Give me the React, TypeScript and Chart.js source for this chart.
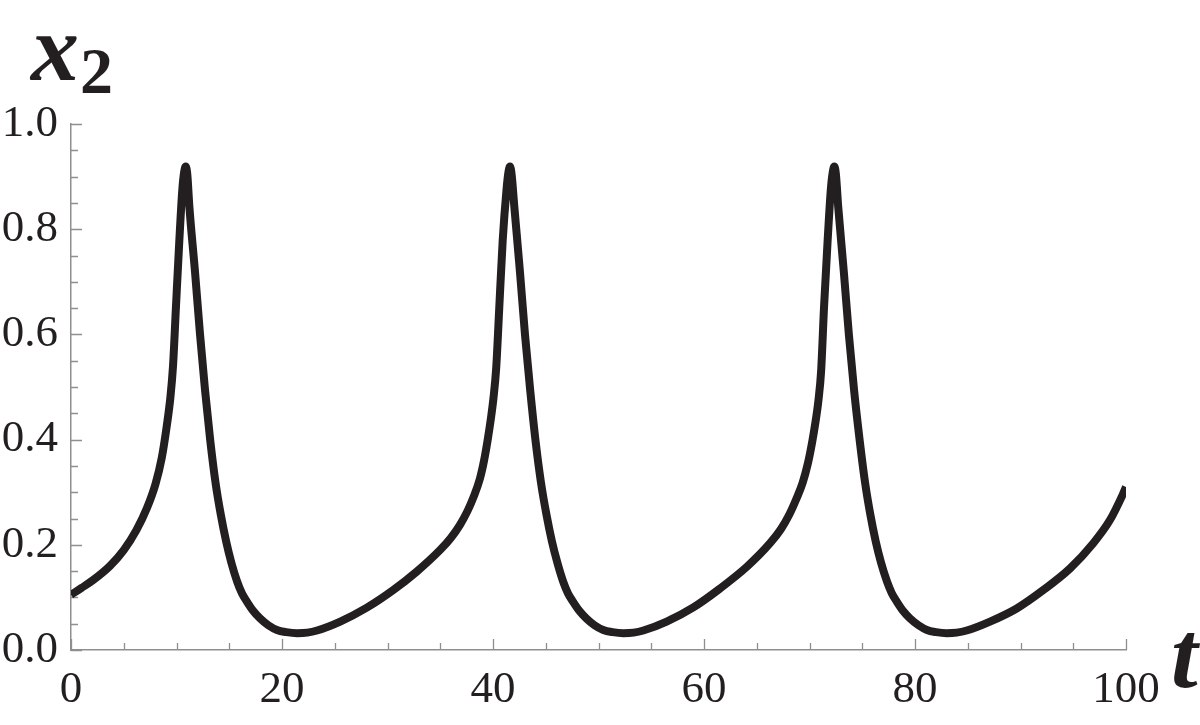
import React, { useEffect, useRef } from 'react';
import { Chart, registerables } from 'chart.js';

Chart.register(...registerables);

// Curve, split at the peaks: t values and x2 values
const riseTimes1 = [0, 1.0, 2.1, 3.7, 5.0, 6.2, 7.2, 8.0, 8.6, 9.07, 9.42, 9.67, 9.95, 10.27, 10.55, 10.72, 10.87];
const riseValues1 = [0.105, 0.118, 0.133, 0.16, 0.19, 0.228, 0.27, 0.315, 0.365, 0.425, 0.48, 0.54, 0.653, 0.779, 0.875, 0.908, 0.919];

const cycleTimes2 = [
  11.02, 11.22, 11.75, 12.23, 12.7, 13.2, 13.7, 14.2, 14.7, 15.2, 15.75, 16.2, 16.67, 17.28, 17.92, 18.7, 19.52, 20.4,
  21.42, 22.4, 23.32, 25.52, 28.0, 30.55, 32.77, 34.98, 36.0, 36.87, 37.6, 38.2, 38.75, 39.15, 39.5, 39.8, 40.05, 40.3,
  40.6, 40.92, 41.28, 41.46, 41.61,
];
const cycleValues2 = [
  0.905, 0.843, 0.72, 0.6, 0.495, 0.398, 0.318, 0.257, 0.207, 0.166, 0.13, 0.108, 0.092, 0.074, 0.06, 0.047, 0.038,
  0.034, 0.032, 0.033, 0.037, 0.054, 0.08, 0.114, 0.149, 0.19, 0.213, 0.238, 0.265, 0.293, 0.325, 0.36, 0.4, 0.44, 0.48,
  0.535, 0.653, 0.779, 0.875, 0.908, 0.919,
];

const cycleTimes3 = [
  41.76, 42.02, 42.55, 43.03, 43.52, 44.03, 44.55, 45.07, 45.58, 46.1, 46.65, 47.1, 47.58, 48.2, 48.84, 49.62, 50.45,
  51.33, 52.35, 53.33, 54.25, 56.46, 58.99, 61.52, 64.05, 66.26, 67.3, 68.1, 68.75, 69.35, 69.85, 70.25, 70.58, 70.85,
  71.1, 71.38, 71.72, 72.02, 72.2, 72.35,
];
const cycleValues3 = [
  0.905, 0.843, 0.72, 0.6, 0.495, 0.398, 0.318, 0.257, 0.207, 0.166, 0.13, 0.108, 0.092, 0.074, 0.06, 0.047, 0.038,
  0.034, 0.032, 0.033, 0.037, 0.054, 0.081, 0.117, 0.158, 0.203, 0.23, 0.258, 0.287, 0.318, 0.355, 0.395, 0.435, 0.475,
  0.53, 0.653, 0.779, 0.875, 0.908, 0.919,
];

const tailTimes = [
  72.5, 72.72, 73.25, 73.73, 74.22, 74.76, 75.27, 75.77, 76.27, 76.78, 77.35, 77.8, 78.27, 78.88, 79.52, 80.33, 81.13,
  82.0, 83.0, 83.95, 84.9, 87.11, 89.64, 92.16, 94.69, 96.9, 98.48, 99.68, 100,
];
const tailValues = [
  0.905, 0.843, 0.72, 0.6, 0.495, 0.398, 0.318, 0.257, 0.207, 0.166, 0.13, 0.108, 0.092, 0.074, 0.06, 0.047, 0.038,
  0.034, 0.032, 0.033, 0.037, 0.054, 0.079, 0.114, 0.155, 0.203, 0.247, 0.295, 0.31,
];

const timeValues = [...riseTimes1, ...cycleTimes2, ...cycleTimes3, ...tailTimes];
const x2Values = [...riseValues1, ...cycleValues2, ...cycleValues3, ...tailValues];

const xTickLabels = [0, 20, 40, 60, 80, 100];
const yTickLabels = [0.0, 0.2, 0.4, 0.6, 0.8, 1.0];
const xMinorStep = 5;
const yMinorStep = 0.05;
const yAxisTitle = 'x';
const yAxisTitleSub = '2';
const xAxisTitle = 't';

const AXIS_COLOR = '#8f8f8f';
const INK = '#231f20';
const SERIF = '"Liberation Serif"';

const axisDecor = {
  id: 'axisDecor',
  beforeDatasetsDraw(chart: any) {
    const { ctx, chartArea, scales } = chart;
    const xs = scales.x;
    const ys = scales.y;
    ctx.save();
    ctx.strokeStyle = AXIS_COLOR;
    ctx.lineWidth = 1.3;
    ctx.beginPath();
    const xMin = xTickLabels[0];
    const xMax = xTickLabels[xTickLabels.length - 1];
    for (let i = 0; xMin + i * xMinorStep <= xMax + 1e-9; i++) {
      const v = xMin + i * xMinorStep;
      const major = xTickLabels.some((m) => Math.abs(m - v) < 1e-9);
      const px = Math.round(xs.getPixelForValue(v)) + 0.5;
      ctx.moveTo(px, chartArea.bottom);
      ctx.lineTo(px, chartArea.bottom - (major ? 11 : 7));
    }
    const yMin = yTickLabels[0];
    const yMax = yTickLabels[yTickLabels.length - 1];
    for (let i = 0; yMin + i * yMinorStep <= yMax + 1e-9; i++) {
      const v = yMin + i * yMinorStep;
      const major = yTickLabels.some((m) => Math.abs(m - v) < 1e-9);
      const py = Math.round(ys.getPixelForValue(v)) + 0.5;
      ctx.moveTo(chartArea.left, py);
      ctx.lineTo(chartArea.left + (major ? 11 : 7), py);
    }
    ctx.stroke();
    ctx.restore();
  },
  afterDraw(chart: any) {
    const { ctx } = chart;
    ctx.save();
    ctx.fillStyle = INK;
    ctx.textBaseline = 'alphabetic';
    ctx.textAlign = 'left';
    ctx.font = `italic bold 96px ${SERIF}`;
    ctx.fillText(yAxisTitle, 31, 80);
    ctx.font = `bold 66px ${SERIF}`;
    ctx.fillText(yAxisTitleSub, 80, 93);
    ctx.font = `italic bold 96px ${SERIF}`;
    ctx.fillText(xAxisTitle, 1171, 687);
    ctx.restore();
  },
};

export default function App() {
  const canvasRef = useRef<HTMLCanvasElement | null>(null);

  useEffect(() => {
    const canvas = canvasRef.current;
    if (!canvas) return;
    const points = timeValues.map((t, i) => ({ x: t, y: x2Values[i] }));
    const chart = new Chart(canvas, {
      type: 'line',
      data: {
        datasets: [
          {
            data: points,
            borderColor: INK,
            borderWidth: 8,
            pointRadius: 0,
            fill: false,
            cubicInterpolationMode: 'monotone',
            borderCapStyle: 'butt',
            borderJoinStyle: 'round',
          },
        ],
      },
      options: {
        animation: false,
        responsive: false,
        maintainAspectRatio: false,
        layout: { padding: { top: 124, right: 74, left: 0, bottom: 0 } },
        plugins: {
          legend: { display: false },
          tooltip: { enabled: false },
          title: { display: false },
        },
        scales: {
          x: {
            type: 'linear',
            min: xTickLabels[0],
            max: xTickLabels[xTickLabels.length - 1],
            afterFit: (s: any) => {
              s.height = 75;
            },
            afterBuildTicks: (s: any) => {
              s.ticks = xTickLabels.map((v) => ({ value: v }));
            },
            grid: { display: false, drawTicks: false },
            border: { display: true, color: AXIS_COLOR, width: 1.5 },
            ticks: {
              padding: 13,
              color: INK,
              maxRotation: 0,
              autoSkip: false,
              font: { family: SERIF, size: 45 },
              callback: (v: any) => String(v),
            },
          },
          y: {
            type: 'linear',
            min: yTickLabels[0],
            max: yTickLabels[yTickLabels.length - 1],
            afterFit: (s: any) => {
              s.width = 71;
            },
            afterBuildTicks: (s: any) => {
              s.ticks = yTickLabels.map((v) => ({ value: v }));
            },
            grid: { display: false, drawTicks: false },
            border: { display: true, color: AXIS_COLOR, width: 1.5 },
            ticks: {
              padding: 13,
              color: INK,
              autoSkip: false,
              font: { family: SERIF, size: 45 },
              callback: (v: any) => Number(v).toFixed(1),
            },
          },
        },
      },
      plugins: [axisDecor],
    });
    const fontsApi: any = (document as any).fonts;
    if (fontsApi && fontsApi.load) {
      Promise.all([
        fontsApi.load(`45px ${SERIF}`),
        fontsApi.load(`italic bold 96px ${SERIF}`),
        fontsApi.load(`bold 66px ${SERIF}`),
      ])
        .then(() => chart.update())
        .catch(() => {});
    }
    return () => chart.destroy();
  }, []);

  return (
    <div style={{ position: 'fixed', left: 0, top: 0, width: 1200, height: 725, background: '#fff', overflow: 'hidden' }}>
      <div
        aria-hidden="true"
        style={{ position: 'absolute', left: 0, top: 0, opacity: 0, fontFamily: SERIF, fontSize: 20, pointerEvents: 'none' }}
      >
        <span>0.8 100</span>
        <b>2</b>
        <b>
          <i>x t</i>
        </b>
      </div>
      <canvas
        ref={canvasRef}
        width={1200}
        height={725}
        style={{ position: 'absolute', left: 0, top: 0, width: 1200, height: 725, display: 'block' }}
      />
    </div>
  );
}
